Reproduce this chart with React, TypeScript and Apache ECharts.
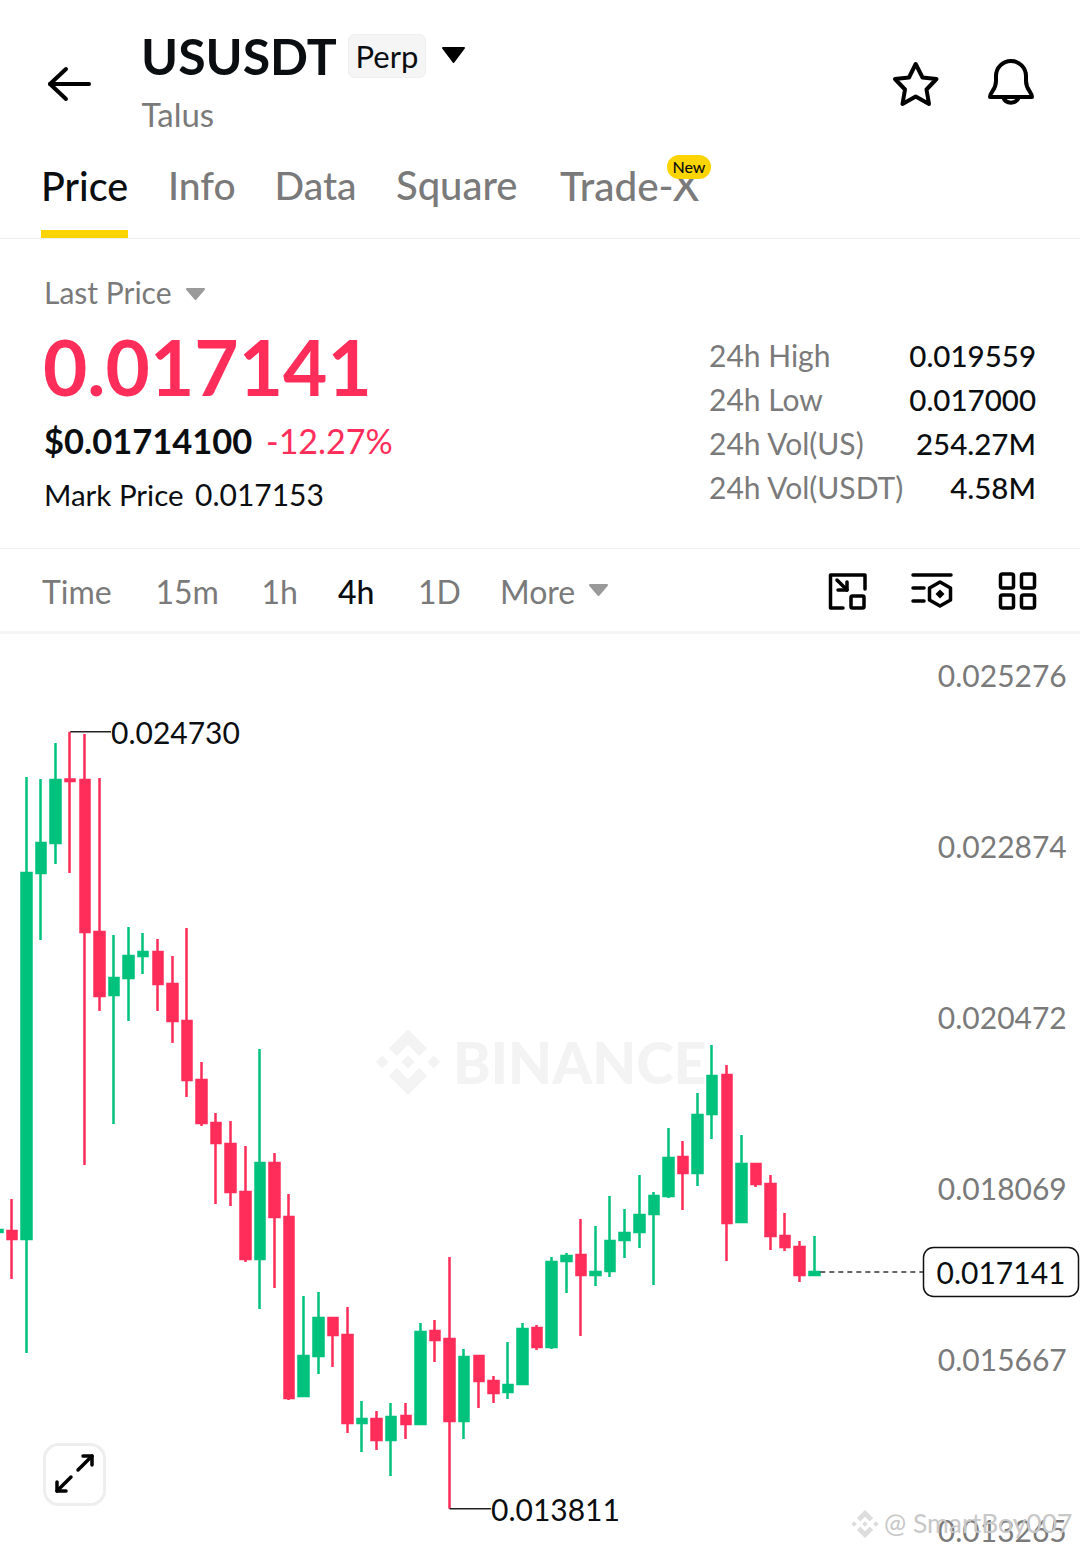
import React, { useEffect, useRef } from "react";
import * as echarts from "echarts";

const opens = [0.017702,0.017715,0.017603,0.022746,0.023168,0.024060,0.024053,0.021917,0.021032,0.021271,0.021580,0.021636,0.021187,0.020667,0.019837,0.019233,0.018938,0.018264,0.017322,0.018671,0.017912,0.015397,0.015959,0.016493,0.016254,0.015017,0.015074,0.014778,0.015116,0.015003,0.016310,0.016198,0.015045,0.015959,0.015608,0.015453,0.015565,0.016352,0.016085,0.017294,0.017378,0.017097,0.017153,0.017589,0.017701,0.017954,0.018207,0.018755,0.018531,0.019360,0.019908,0.017842,0.018657,0.018376,0.017645,0.017491,0.017097];
const closes = [0.017730,0.017603,0.022746,0.023168,0.024053,0.024039,0.021917,0.021018,0.021271,0.021580,0.021636,0.021187,0.020667,0.019837,0.019233,0.018952,0.018264,0.017322,0.018671,0.017912,0.015369,0.015959,0.016493,0.016254,0.015017,0.015074,0.014778,0.015102,0.015003,0.016296,0.016184,0.015045,0.015945,0.015608,0.015439,0.015551,0.016338,0.016085,0.017280,0.017364,0.017097,0.017139,0.017575,0.017687,0.017940,0.018207,0.018741,0.018531,0.019346,0.019894,0.017828,0.018657,0.018376,0.017645,0.017491,0.017097,0.017141];
const lows = [0.017702,0.017041,0.016001,0.021805,0.022873,0.022746,0.018643,0.020807,0.019219,0.020667,0.021327,0.020807,0.020357,0.019599,0.019191,0.018095,0.018067,0.017280,0.016619,0.016914,0.015341,0.015383,0.015706,0.015804,0.014877,0.014610,0.014638,0.014273,0.014792,0.015003,0.015875,0.013811,0.014792,0.015228,0.015298,0.015355,0.015551,0.016043,0.016057,0.016844,0.016240,0.016943,0.017069,0.017336,0.017477,0.016957,0.018179,0.018011,0.018348,0.019008,0.017294,0.017828,0.018334,0.017448,0.017434,0.016999,0.017097];
const highs = [0.017730,0.018165,0.024096,0.024067,0.024573,0.024730,0.024700,0.024081,0.021875,0.021988,0.021903,0.021819,0.021580,0.021974,0.020090,0.019374,0.019261,0.018910,0.020273,0.018812,0.018235,0.016802,0.016858,0.016507,0.016647,0.015326,0.015186,0.015298,0.015298,0.016423,0.016465,0.017350,0.016057,0.015973,0.015678,0.016156,0.016423,0.016394,0.017350,0.017406,0.017884,0.017786,0.018207,0.018025,0.018502,0.018264,0.019163,0.018980,0.019655,0.020329,0.020048,0.019065,0.018671,0.018502,0.017968,0.017575,0.017645];
const priceTicks = [0.025276,0.022874,0.020472,0.018069,0.015667,0.013265];
const SLOT_COUNT = 75;
const categories = Array.from({ length: SLOT_COUNT }, (_, i) => String(i));

const FONT = "Lato, 'Open Sans', sans-serif";
const UP = "#00C27C";
const DOWN = "#FF2D5A";
const GRAY = "#7A7A7A";
const INK = "#0B0E11";

const txt = (text: string, x: number, y: number, fontSize: number, fill: string, fontWeight: any = 400, align = "left", extra: any = {}) => ({
  type: "text", z: 10, ...extra,
  style: { text, x, y: y - 1, fontSize, fill, fontWeight, fontFamily: FONT, align, verticalAlign: "middle" },
});
const stroke = (w: number, c = "#000") => ({ fill: "none", stroke: c, lineWidth: w, lineCap: "round", lineJoin: "round" });
const pl = (points: number[][], w = 4, c = "#000") => ({ type: "polyline", z: 10, shape: { points }, style: stroke(w, c) });
const rrect = (x: number, y: number, width: number, height: number, r: number, style: any, z = 10) => ({ type: "rect", z, shape: { x, y, width, height, r }, style });

const logo = (cx: number, cy: number, r: number, color: string, z = 0) => {
  const P = (pts: number[][]) => ({ type: "polygon", z, shape: { points: pts.map(([a, b]) => [cx + a * r, cy + b * r]) }, style: { fill: color } });
  const d = (x: number, y: number, s: number) => P([[x, y - s], [x + s, y], [x, y + s], [x - s, y]]);
  return [
    d(0, 0, 0.2), d(-0.78, 0, 0.2), d(0.78, 0, 0.2),
    P([[0, -1], [0.58, -0.42], [0.34, -0.18], [0, -0.52], [-0.34, -0.18], [-0.58, -0.42]]),
    P([[0, 1], [0.58, 0.42], [0.34, 0.18], [0, 0.52], [-0.34, 0.18], [-0.58, 0.42]]),
  ];
};

function chrome(): any[] {
  const tri = (x1: number, x2: number, y1: number, y2: number, fill: string) => ({
    type: "polygon", z: 10, shape: { points: [[x1, y1], [x2, y1], [(x1 + x2) / 2, y2]] }, style: { fill, stroke: fill, lineWidth: 2, lineJoin: "round" },
  });
  const rows: [string, number, string][] = [["24h High", 356, "0.019559"], ["24h Low", 400, "0.017000"], ["24h Vol(US)", 444, "254.27M"], ["24h Vol(USDT)", 488, "4.58M"]];
  const periods: [string, number][] = [["Time", 42], ["15m", 155.5], ["1h", 261.5], ["1D", 418], ["More", 500]];
  const tabs: [string, number, number][] = [["Info", 168, 39], ["Data", 274.5, 39], ["Square", 396, 40], ["Trade-X", 560, 40.5]];
  return [
    pl([[50, 84], [89, 84]]), pl([[66, 69], [50, 84], [66, 99]]),
    txt("USUSDT", 141, 57, 50, INK, 700),
    rrect(348.5, 34.5, 77, 43, 6, { fill: "#F5F5F5", stroke: "#EEEEEE", lineWidth: 1 }),
    txt("Perp", 387, 57, 31, INK, 400, "center"),
    tri(443, 464, 48, 62, "#000"),
    txt("Talus", 141.5, 115, 33, GRAY),
    { type: "polygon", z: 10, shape: { points: [[915.7, 64], [922.5, 77.5], [936.5, 79], [926.5, 89.5], [929, 104], [915.7, 96.5], [902.5, 104], [905, 89.5], [895, 79], [909, 77.5]] }, style: stroke(4) },
    { type: "bell", z: 10, style: stroke(4) },
    txt("Price", 41, 186, 39.5, INK, 500),
    ...tabs.map(([t, x, s]) => txt(t, x, 186, s, GRAY, 500)),
    rrect(667, 155, 44, 24, 12, { fill: "#FCD500" }, 11),
    txt("New", 689, 167.5, 16, INK, 500, "center", { z: 12 }),
    rrect(41, 230, 87, 8, 0, { fill: "#FCD500" }),
    rrect(0, 238, 1080, 1, 0, { fill: "#EEEEEE" }),
    txt("Last Price", 44, 293, 30, GRAY),
    tri(187, 204, 289, 299, "#9A9A9A"),
    txt("0.017141", 43, 367, 76.5, DOWN, 700),
    txt("$0.01714100", 44, 441, 34.5, INK, 700),
    txt("-12.27%", 266, 441, 34, DOWN, 400),
    txt("Mark Price", 44, 495, 29.5, INK),
    txt("0.017153", 195, 495, 30, INK),
    ...rows.flatMap(([l, y, v]) => [txt(l, 709, y, 30, GRAY), txt(v, 1036, y, 29.5, INK, 500, "right")]),
    rrect(0, 548, 1080, 1, 0, { fill: "#EEEEEE" }),
    ...periods.map(([t, x]) => txt(t, x, 592, 32, GRAY)),
    txt("4h", 338, 592, 32, INK, 500),
    tri(590, 607, 585, 595, "#9A9A9A"),
    pl([[865, 589], [865, 575], [830.5, 575], [830.5, 608], [843, 608]], 3.5),
    rrect(851, 596, 13, 12, 1.5, stroke(3.5)),
    pl([[837, 580], [847, 590]], 3.5), pl([[847, 582], [847, 590], [838, 590]], 3.5),
    pl([[913, 575], [951, 575]], 3.5), pl([[913, 588], [924, 588]], 3.5), pl([[913, 601], [924, 601]], 3.5),
    { type: "polygon", z: 10, shape: { points: [[940, 582], [950.5, 588], [950.5, 600], [940, 606], [929.5, 600], [929.5, 588]] }, style: stroke(3.5) },
    { type: "polygon", z: 10, shape: { points: [[940, 589.5], [944.5, 594], [940, 598.5], [935.5, 594]] }, style: { fill: "#000" } },
    rrect(1000.5, 574, 13, 14, 2, stroke(3.5)), rrect(1021.5, 574, 13, 14, 2, stroke(3.5)),
    rrect(1000.5, 595, 13, 13, 2, stroke(3.5)), rrect(1021.5, 595, 13, 13, 2, stroke(3.5)),
    rrect(0, 631, 1080, 3, 0, { fill: "#F5F5F5" }),
    ...logo(408, 1062, 33, "#F3F3F3"),
    { type: "text", z: 0, style: { text: "BINANCE", x: 453, y: 1062, fontSize: 57, fontWeight: 900, fill: "#F3F3F3", fontFamily: FONT, align: "left", verticalAlign: "middle" } },
    rrect(44.5, 1444.5, 60, 60, 14, { fill: "#fff", stroke: "#EEEEEE", lineWidth: 3 }),
    pl([[78, 1470], [92, 1456]], 3.5), pl([[83, 1456], [92, 1456], [92, 1465]], 3.5),
    pl([[71, 1477], [57, 1491]], 3.5), pl([[57, 1482], [57, 1491], [66, 1491]], 3.5),
    ...logo(865, 1524, 14, "#DDDDDD", 9),
    txt("@ SmartBoy007", 884, 1524, 26.5, "#C8C8C8", 400, "left", { z: 9 }),
  ];
}

export default function App() {
  const ref = useRef<HTMLDivElement>(null);
  useEffect(() => {
    document.body.style.margin = "0";
    echarts.graphic.registerShape("bell", echarts.graphic.extendPath(
      "M990 97 C990 92 996 90 996 81 L996 76 A15 15 0 0 1 1026 76 L1026 81 C1026 90 1032 92 1032 97 Z M1003 97 A8.5 8.5 0 0 0 1019 97", {}) as any);
    const chart = echarts.init(ref.current!, undefined, { renderer: "svg" });
    const candleData = opens.map((o, i) => [o, closes[i], lows[i], highs[i]]);
    chart.setOption({
      animation: false,
      backgroundColor: "#fff",
      grid: { left: -10, top: 693, width: 1094.25, height: 854.7, containLabel: false, outerBoundsMode: "none" },
      xAxis: { type: "category", data: categories, show: false, boundaryGap: true },
      yAxis: {
        type: "value", position: "right", min: priceTicks[priceTicks.length - 1], max: priceTicks[0], scale: true,
        splitLine: { show: false }, axisLine: { show: false }, axisTick: { show: false },
        axisLabel: {
          inside: true, margin: 17.5, customValues: priceTicks, verticalAlign: "bottom", color: GRAY,
          fontSize: 30, fontFamily: FONT, padding: [0, 0, 3, 0], formatter: (v: number) => v.toFixed(6),
        },
      },
      series: [{
        type: "candlestick", data: candleData, barWidth: 10, z: 2,
        itemStyle: { color: UP, color0: DOWN, borderColor: UP, borderColor0: DOWN, borderWidth: 2.5 },
      }],
    });
    const hi = Math.max(...highs), lo = Math.min(...lows);
    const hiP = chart.convertToPixel({ gridIndex: 0 }, [highs.indexOf(hi), hi]) as number[];
    const loP = chart.convertToPixel({ gridIndex: 0 }, [lows.indexOf(lo), lo]) as number[];
    const last = closes[closes.length - 1];
    const lastP = chart.convertToPixel({ gridIndex: 0 }, [closes.length - 1, last]) as number[];
    chart.setOption({
      graphic: [
        ...chrome(),
        { type: "line", z: 5, shape: { x1: hiP[0], y1: hiP[1], x2: 111, y2: hiP[1] }, style: { stroke: "#222", lineWidth: 1.5 } },
        txt(hi.toFixed(6), 111, hiP[1] + 1, 30, INK),
        { type: "line", z: 5, shape: { x1: loP[0], y1: loP[1], x2: 491, y2: loP[1] }, style: { stroke: "#222", lineWidth: 1.5 } },
        txt(lo.toFixed(6), 491, loP[1] + 1, 30, INK),
        { type: "line", z: 5, shape: { x1: lastP[0] + 6, y1: lastP[1], x2: 923, y2: lastP[1] }, style: { stroke: "#333", lineWidth: 1.5, lineDash: [5, 4] } },
        rrect(923.5, 1247.5, 155, 49, 10, { fill: "#fff", stroke: "#111", lineWidth: 1.5 }),
        txt(last.toFixed(6), 1001, lastP[1] + 1, 30, INK, 400, "center", { z: 11 }),
      ],
    });
    return () => chart.dispose();
  }, []);
  return <div ref={ref} style={{ width: 1080, height: 1549, position: "absolute", left: 0, top: 0 }} />;
}
